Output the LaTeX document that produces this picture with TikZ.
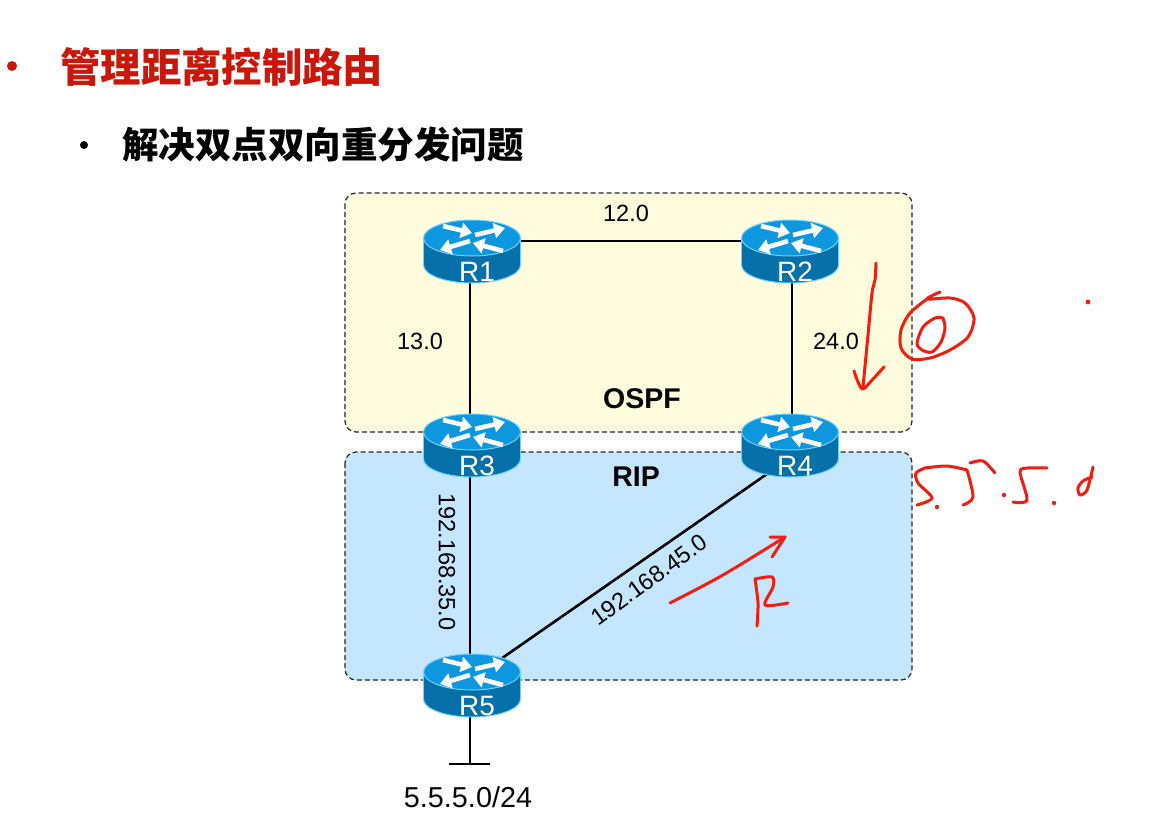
\documentclass[tikz,border=0pt]{standalone}
\usepackage{fontspec}
\setmainfont{Liberation Sans}
\newfontfamily\cjk{Noto Sans CJK SC}
\usetikzlibrary{arrows.meta,calc}
\pgfdeclarelayer{regions}
\pgfdeclarelayer{links}
\pgfsetlayers{regions,links,main}
\definecolor{rtop}{HTML}{0C97DE}
\definecolor{rbody}{HTML}{0670A8}
\definecolor{rrim}{HTML}{6FD2FF}
\definecolor{ink}{HTML}{F01E10}
\definecolor{titlered}{HTML}{C9170A}
\definecolor{ospfzone}{HTML}{FFFBDD}
\definecolor{ripzone}{HTML}{C5E6FF}
\newcommand{\fsz}[1]{\fontsize{#1}{#1}\selectfont}
\tikzset{
  x=1pt,y=-1pt,
  region/.style={draw=black!85,line width=1.2pt,dash pattern=on 5pt off 3pt,rounded corners=11pt},
  link/.style={draw=black,line width=2.6pt},
  lab/.style={inner sep=0pt,text=black,font=\fsz{23.5}},
  zone/.style={inner sep=0pt,text=black,font=\fsz{28.5}\bfseries},
  rname/.style={inner sep=0pt,text=white,font=\fsz{28},text height=20pt,text depth=0pt},
  rarrow/.style={draw=white,line width=4.6pt,-{Triangle[length=11pt,width=15pt]}},
  pen/.style={draw=ink,line width=3pt,line cap=round,line join=round},
}
\newcommand{\router}[4]{%
  \begin{scope}[shift={(#2,#3)}]
    \fill[rbody,draw=rrim,line width=1pt] (0,27) ellipse [x radius=48.5,y radius=18];
    \fill[rbody] (-48,0) rectangle (48,27);
    \draw[rrim,line width=1pt] (-48.5,0) -- (-48.5,27) (48.5,0) -- (48.5,27);
    \fill[rtop,draw=rrim,line width=1pt] (0,0) ellipse [x radius=48.5,y radius=18];
    \draw[rarrow] (-29,-12) -- (0,-5);
    \draw[rarrow] (3,-3) -- (33,-10);
    \draw[rarrow] (-2,3) -- (-32,12);
    \draw[rarrow] (31,13) -- (1,5);
    \node[rname] (#1) at (5,33) {#4};
  \end{scope}}
\begin{document}
\begin{tikzpicture}
\useasboundingbox (0,0) rectangle (1163,825);
\begin{pgfonlayer}{regions}
  \fill[white] (0,0) rectangle (1163,825);
  \path[region,fill=ospfzone] (345,193) rectangle (912,432);
  \path[region,fill=ripzone] (345,452) rectangle (912,680);
\end{pgfonlayer}
% title
\fill[titlered] (12,66) circle (5);
\node[anchor=west,inner sep=0pt,text=titlered,font=\cjk\fsz{40.4}\bfseries] (title) at (60,67) {管理距离控制路由};
\fill[black] (84,145) circle (4);
\node[anchor=west,inner sep=0pt,text=black,font=\cjk\fsz{36.5}\bfseries] (sub) at (122,145) {解决双点双向重分发问题};
% routers
\router{R1}{472}{238}{R1}
\router{R2}{790}{238}{R2}
\router{R3}{472}{432}{R3}
\router{R4}{790}{432}{R4}
\router{R5}{472}{672}{R5}
\coordinate (stub) at (470,764);
\coordinate (stubL) at (449,764);
\coordinate (stubR) at (490,764);
\begin{pgfonlayer}{links}
  \draw[link] ([yshift=30pt]R1.center) -- ([yshift=30pt]R2.center);
  \draw[link] ([xshift=-7pt]R1.center) -- ([xshift=-7pt]R3.center);
  \draw[link] ([xshift=-3pt]R2.center) -- ([xshift=-3pt]R4.center);
  \draw[link] ([xshift=-7pt]R3.center) -- ([xshift=-7pt]R5.center);
  \draw[link] ([yshift=7pt,xshift=-5pt]R4.center) -- ([yshift=26pt,xshift=-5pt]R5.center);
  \draw[link] ([xshift=-7pt]R5.center) -- (stub);
  \draw[link] (stubL) -- (stubR);
\end{pgfonlayer}
% labels
\node[lab] (l12) at (626,213) {12.0};
\node[lab] (l13) at (420,341) {13.0};
\node[lab] (l24) at (836,341) {24.0};
\node[zone] (ospf) at (642,399) {OSPF};
\node[zone] (rip) at (636,477) {RIP};
\node[lab,rotate=-90] (l35) at (447,562) {192.168.35.0};
\node[lab,rotate=36] (l45) at (649,580) {192.168.45.0};
\node[lab,font=\fsz{28.8}] (net) at (468,797) {5.5.5.0/24};
% handwriting
\draw[pen] plot[smooth] coordinates {(876,263) (875,280) (872,293) (868,335) (863,387)};
\draw[pen] plot[smooth] coordinates {(854,371) (858,382) (863,389) (873,379) (884,367)};
\draw[pen] plot[smooth] coordinates {(940,292) (927,299) (950,298) (965,303) (974,318) (968,337) (950,350) (930,358) (912,359) (901,348) (901,330) (910,313) (927,299)};
\draw[pen] plot[smooth] coordinates {(943,318) (935,318) (923,327) (917,343) (922,350) (932,352) (941,342) (945,328) (943,318)};
\draw[pen] plot[smooth] coordinates {(925,468) (916,473) (918,483) (932,498) (917,505)};
\draw[pen] plot[smooth] coordinates {(925,468) (947,466) (967,470)};
\draw[pen] plot[smooth] coordinates {(967,470) (973,497) (963,505)};
\draw[pen] plot[smooth] coordinates {(970,463) (983,461) (995,473)};
\draw[pen] plot[smooth] coordinates {(1047,468) (1028,468) (1020,472) (1027,500) (1013,502)};
\draw[pen] plot[smooth] coordinates {(1093,467) (1087,490) (1080,495) (1078,488) (1083,481) (1092,477)};
\fill[ink] (937,507) circle (2.2);
\fill[ink] (1004,495) circle (2.2);
\fill[ink] (1054,503) circle (2.2);
\fill[ink] (1088,302) circle (2.4);
\draw[pen] plot[smooth] coordinates {(670,603) (723,575) (785,537)};
\draw[pen] (770,537) -- (785,537) -- (772,557);
\draw[pen] plot[smooth] coordinates {(755,579) (758,603) (757,626)};
\draw[pen] plot[smooth] coordinates {(755,579) (772,577) (773,587) (765,605) (788,603)};
\end{tikzpicture}
\end{document}
